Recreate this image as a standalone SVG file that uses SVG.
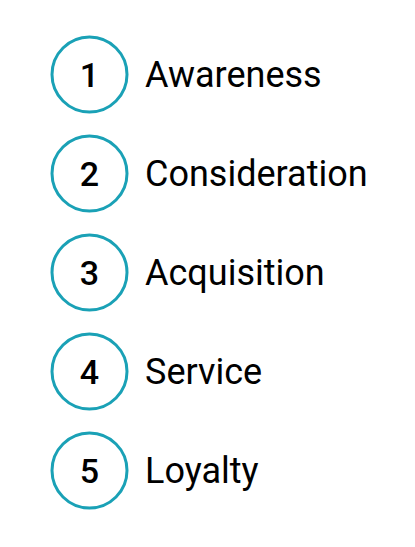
<svg xmlns="http://www.w3.org/2000/svg" width="415" height="547" viewBox="0 0 415 547">
<style>
.c{fill:#fff;stroke:#1aa1b6;stroke-width:3}
.n{font-family:Roboto,"Liberation Sans",sans-serif;font-size:34px;font-weight:500;fill:#000;text-anchor:middle}
.l{font-family:Roboto,"Liberation Sans",sans-serif;font-size:36px;fill:#000}
</style>
<rect width="415" height="547" fill="#fff"/>
<g id="connectors"></g>
<g id="node1"><circle class="c" cx="89.5" cy="74.5" r="37.5"/><text class="n" x="89.5" y="86.5">1</text><text class="l" x="145" y="87">Awareness</text></g>
<g id="node2"><circle class="c" cx="89.5" cy="173.5" r="37.5"/><text class="n" x="89.5" y="185.5">2</text><text class="l" x="145" y="186">Consideration</text></g>
<g id="node3"><circle class="c" cx="89.5" cy="272.5" r="37.5"/><text class="n" x="89.5" y="284.5">3</text><text class="l" x="145" y="285">Acquisition</text></g>
<g id="node4"><circle class="c" cx="89.5" cy="371.5" r="37.5"/><text class="n" x="89.5" y="383.5">4</text><text class="l" x="145" y="384">Service</text></g>
<g id="node5"><circle class="c" cx="89.5" cy="470.5" r="37.5"/><text class="n" x="89.5" y="482.5">5</text><text class="l" x="145" y="483">Loyalty</text></g>
</svg>
